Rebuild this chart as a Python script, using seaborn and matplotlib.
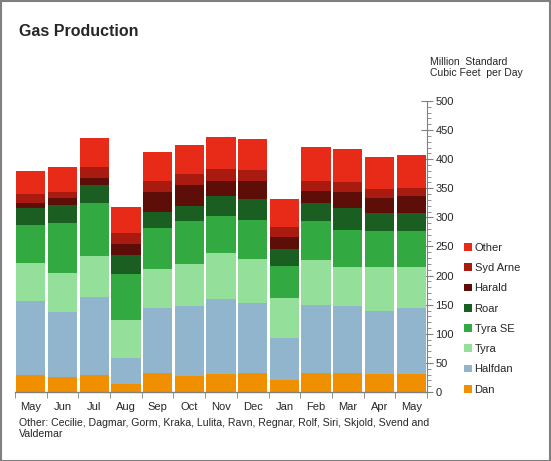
import numpy as np
import pandas as pd
import matplotlib
matplotlib.use("Agg")
import matplotlib.pyplot as plt
import seaborn as sns
from matplotlib.patches import Rectangle
from matplotlib.ticker import MultipleLocator

months = ["May", "Jun", "Jul", "Aug", "Sep", "Oct", "Nov", "Dec", "Jan", "Feb", "Mar", "Apr", "May"]
series = ["Dan", "Halfdan", "Tyra", "Tyra SE", "Roar", "Harald", "Syd Arne", "Other"]

dan      = [29, 25, 29, 13, 33, 28, 31, 33, 21, 33, 33, 31, 31]
halfdan  = [128, 113, 135, 46, 112, 120, 128, 120, 72, 117, 114, 109, 114]
tyra     = [65, 67, 70, 65, 67, 72, 79, 76, 69, 77, 67, 75, 70]
tyra_se  = [65, 86, 91, 79, 70, 73, 65, 67, 55, 66, 65, 62, 62]
roar     = [29, 31, 31, 33, 28, 27, 34, 36, 29, 31, 38, 31, 31]
harald   = [9, 12, 12, 19, 34, 35, 26, 31, 21, 22, 27, 26, 28]
syd_arne = [15, 9, 19, 19, 19, 20, 21, 19, 17, 17, 17, 15, 15]
other    = [40, 43, 50, 44, 50, 50, 55, 53, 48, 58, 57, 55, 57]

colors = ["#F09000", "#91B5CC", "#94E09A", "#33A941", "#1B5E22", "#5E0E08", "#A91B10", "#E82A18"]

values = [dan, halfdan, tyra, tyra_se, roar, harald, syd_arne, other]
period = [f"{m}_{i}" for i, m in enumerate(months)]

sns.set_style("white")
plt.rcParams["font.family"] = ["Liberation Sans", "DejaVu Sans"]

fig = plt.figure(figsize=(5.51, 4.61), dpi=100)
ax = fig.add_axes([15/551, 1 - 392/461, 412/551, 291/461])

bottom = np.zeros(len(months))
for name, vals, col in zip(series, values, colors):
    df = pd.DataFrame({"period": period, "value": vals})
    sns.barplot(data=df, x="period", y="value", color=col, bottom=bottom,
                width=0.92, linewidth=0, ax=ax, label=name, saturation=1)
    bottom = bottom + np.array(vals)

ax.set_xlim(-0.5, len(months) - 0.5)
ax.set_ylim(0, 500)
ax.set_xlabel("")
ax.set_ylabel("")

gray = "#808080"
for s in ["top", "left", "right"]:
    ax.spines[s].set_visible(False)
ax.spines["bottom"].set_color(gray)
ax.spines["bottom"].set_linewidth(1)

# y axis on the right side
ax.yaxis.tick_right()
ax.spines["right"].set_visible(True)
ax.spines["right"].set_color(gray)
ax.yaxis.set_major_locator(MultipleLocator(50))
ax.yaxis.set_minor_locator(MultipleLocator(10))
ax.tick_params(axis="y", which="major", direction="inout", length=8, color=gray,
               labelsize=8, pad=2, right=True, left=False)
ax.tick_params(axis="y", which="minor", direction="out", length=3, color=gray,
               right=True, left=False)

# x ticks: labels at centers, tick marks at boundaries
ax.set_xticks(range(len(months)))
ax.set_xticklabels(months)
ax.tick_params(axis="x", which="major", length=0, labelsize=8, pad=7)
ax.set_xticks(np.arange(-0.5, len(months), 1), minor=True)
ax.tick_params(axis="x", which="minor", direction="out", length=4, color=gray, bottom=True)

# legend (reverse order)
handles, labels = ax.get_legend_handles_labels()
leg = ax.legend(handles[::-1], labels[::-1], loc="upper left",
                bbox_to_anchor=(464/551, 1 - 243/461), bbox_transform=fig.transFigure,
                frameon=False, fontsize=8, handlelength=0.7, handleheight=0.7,
                handletextpad=0.25, labelspacing=0.92, borderpad=0, borderaxespad=0)

fig.text(19/551, 1 - 31/461, "Gas Production", fontsize=11.5, fontweight="bold",
         va="center", ha="left")
fig.text(430/551, 1 - 57/461, "Million  Standard\nCubic Feet  per Day", fontsize=7.5,
         va="top", ha="left", linespacing=1.15)
fig.text(19/551, 1 - 418/461,
         "Other: Cecilie, Dagmar, Gorm, Kraka, Lulita, Ravn, Regnar, Rolf, Siri, Skjold, Svend and\nValdemar",
         fontsize=7.6, va="top", ha="left", linespacing=1.12)

fig.patches.append(Rectangle((0.001, 0.001), 0.997, 0.997, transform=fig.transFigure,
                             fill=False, edgecolor=gray, linewidth=1.5))

fig.savefig("out.png", dpi=100)
